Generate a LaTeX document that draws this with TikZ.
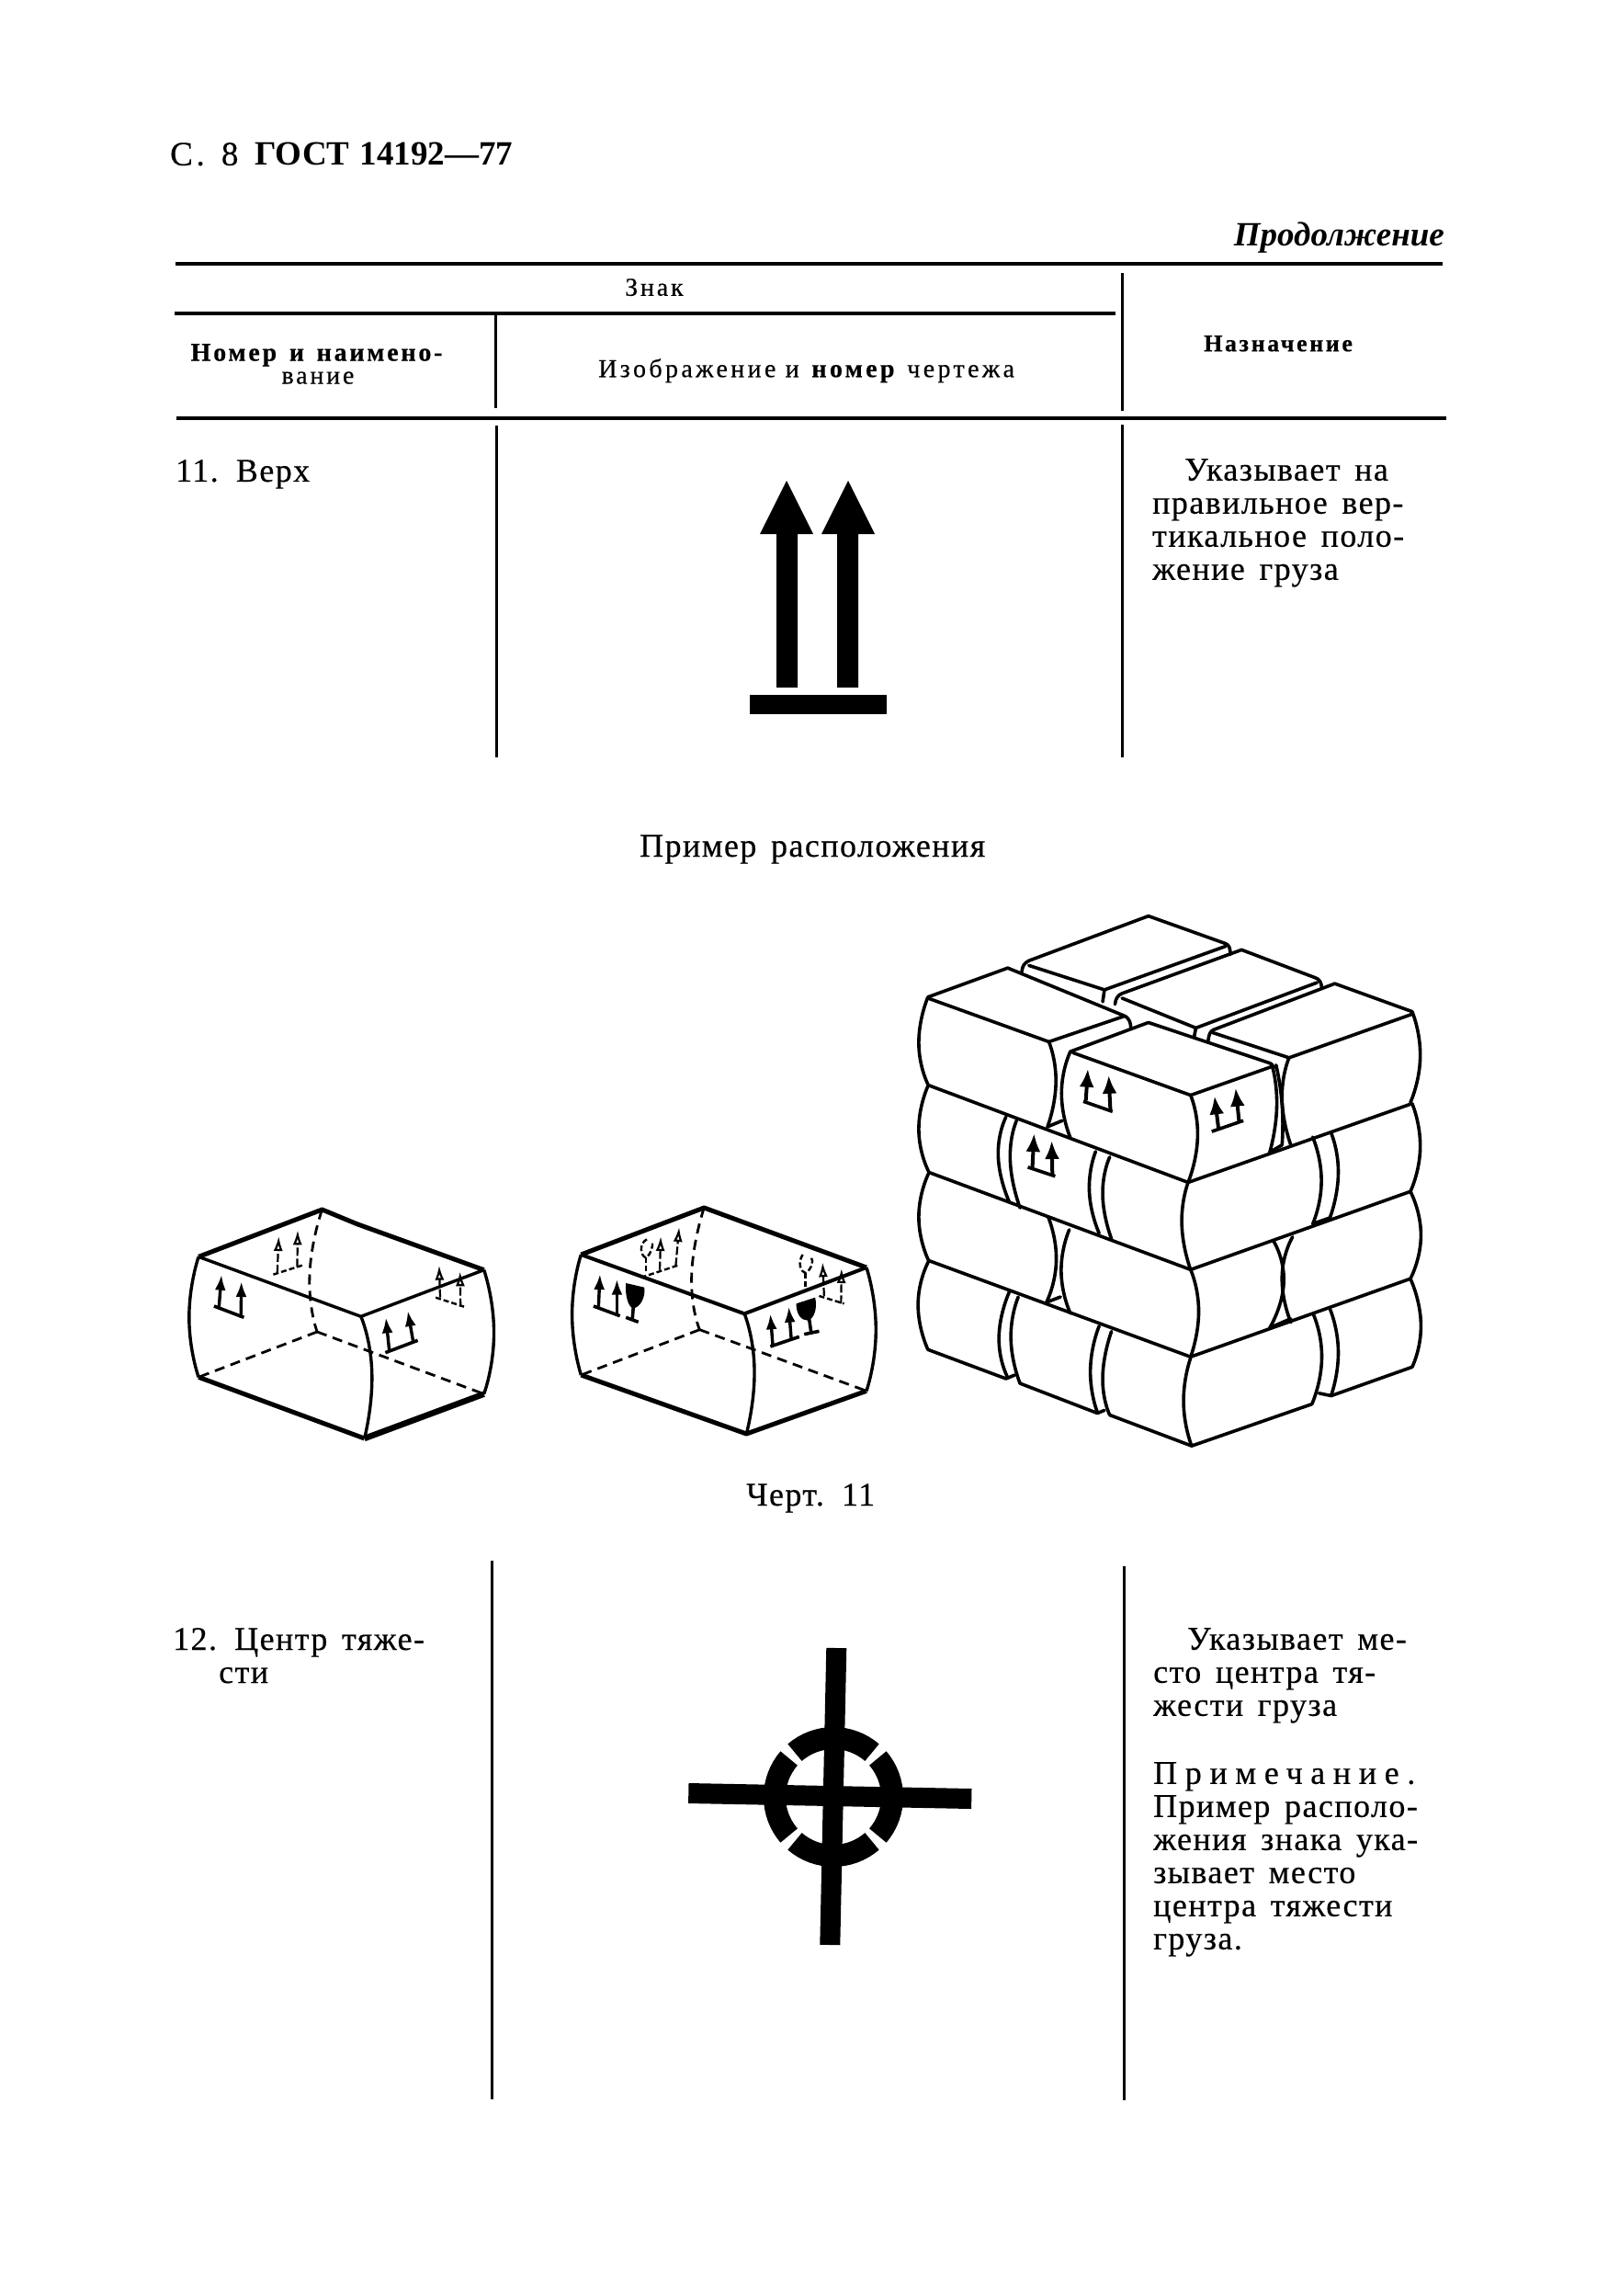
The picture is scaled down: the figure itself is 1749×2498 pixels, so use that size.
\documentclass[tikz,border=0pt]{standalone}
\usepackage{fontspec}
\usetikzlibrary{arrows.meta}
\setmainfont{Liberation Serif}
\newfontfamily\bodyfont{Liberation Serif}[LetterSpace=4,WordSpace=1.5,FakeBold=0.4]
\newfontfamily\smallfont{Liberation Serif}[LetterSpace=10,FakeBold=0.4]
\newfontfamily\wideboldfont{Liberation Serif}[LetterSpace=10,WordSpace=1.4,FakeBold=0.4]
\newfontfamily\headboldfont{Liberation Serif Bold}[LetterSpace=0,WordSpace=1.2]
\tikzset{
  every plot/.style={tension=1},
  tablerule/.style={line width=4.4pt},
  tablevert/.style={line width=3pt},
  txt/.style={anchor=north west, inner sep=0pt, align=left, font=\bodyfont\fontsize{36}{36}\selectfont},
  smalltxt/.style={anchor=north west, inner sep=0pt, align=left, font=\smallfont\fontsize{28}{25}\selectfont},
  edgeheavy/.style={line width=5pt, line join=round},
  edgelight/.style={line width=3.4pt, line join=round},
  hiddenedge/.style={line width=2.8pt, dash pattern=on 11pt off 7pt},
  stackline/.style={line width=3.6pt, line join=round, line cap=round},
  markstem/.style={line width=3.4pt, -{Latex[length=17pt,width=12pt]}},
  stackstem/.style={line width=4pt, -{Latex[length=20pt,width=16pt]}},
  hiddenstem/.style={line width=2.2pt, dash pattern=on 9pt off 3pt, -{Latex[open,length=16pt,width=10pt]}},
  markbase/.style={line width=3.6pt},
  hiddenbase/.style={line width=2.4pt, dash pattern=on 6pt off 3pt}
}
\begin{document}
\begin{tikzpicture}[x=1pt, y=-1pt]
    \useasboundingbox (0,0) rectangle (1749,2498);
    \fill [white] (0,0) rectangle (1749,2498);
    % page head
    \node (pagenum) [txt, font=\wideboldfont\fontsize{37}{37}\selectfont] at (185,155) {С. 8};
    \node (pagehead) [txt, font=\headboldfont\fontsize{37}{37}\selectfont] at (277,155) {ГОСТ 14192—77};
    \node (contd) [anchor=base east, inner sep=0pt, font=\fontsize{37}{37}\selectfont\bfseries\itshape] at (1572,267) {Продолжение};
    % table head
    \draw [tablerule] (191,287) -- (1570,287);
    \draw [tablerule, line width=3.8pt] (190,341) -- (1214,341);
    \draw [tablerule] (192,455) -- (1574,455);
    \draw [tablevert] (539,343) -- (539,444);
    \draw [tablevert] (1221,297) -- (1221,447);
    \draw [tablevert] (540,463) -- (540,824);
    \draw [tablevert] (1221,462) -- (1221,824);
    \node (signhead) [smalltxt] at (680,303) {Знак};
    \node (numhead) [smalltxt, align=center, anchor=north] at (346,374) {\textbf{Номер и наимено-}\\вание};
    \node (drawhead) [smalltxt, font=\smallfont\addfontfeature{LetterSpace=12}\fontsize{28}{25}\selectfont] at (651,390) {Изображение и \textbf{номер} чертежа};
    \node (usehead) [smalltxt, font=\smallfont\fontsize{26}{25}\selectfont] at (1310,365) {\textbf{Назначение}};
    % row 11
    \node (rowtop) [txt] at (191,500) {11. Верх};
    \node (rowtopuse) [txt] at (1254,499) {\hspace*{35pt}Указывает на\\правильное вер-\\тикальное поло-\\жение груза};
    \fill (856,523) -- (885,581) -- (868,581) -- (868,748) -- (845,748) -- (845,581) -- (827,581) -- cycle;
    \fill (923,523) -- (952,581) -- (934,581) -- (934,748) -- (911,748) -- (911,581) -- (894,581) -- cycle;
    \fill (816,756) rectangle (965,777);
    \node (examplecap) [txt, anchor=base west] at (696,932) {Пример расположения};
    % two single cartons
    \begin{scope}[shift={(150,1270)}, x=0.542pt, y=-0.3333pt]
      \draw [edgeheavy] (122,292) -- (370,138) -- (440,185) -- (695,335);
      \draw [edgelight] (122,292) -- (448,487) -- (695,335);
      \draw [edgeheavy] (122,685) -- (455,885);
      \draw [edgeheavy, line width=6.5pt] (455,885) -- (695,740);
      \draw [edgelight] plot [smooth] coordinates {(122,292) (103,490) (122,685)};
      \draw [edgelight] plot [smooth] coordinates {(695,335) (715,540) (695,740)};
      \draw [edgelight] plot [smooth] coordinates {(448,487) (470,670) (455,885)};
      \draw [hiddenedge] plot [smooth] coordinates {(370,138) (345,350) (360,537)};
      \draw [hiddenedge] (360,537) -- (122,685);
      \draw [hiddenedge] (360,537) -- (695,740);
      \draw [markstem] (163,455) -- (168,350);
      \draw [markstem] (207,490) -- (208,372);
      \draw [markbase] (153,453) -- (213,490);
      \draw [markstem] (505,600) -- (498,490);
      \draw [markstem] (553,570) -- (542,468);
      \draw [markbase] (497,605) -- (562,565);
      \draw [hiddenstem] (280,345) -- (283,225);
      \draw [hiddenstem] (320,325) -- (321,205);
      \draw [hiddenbase] (272,350) -- (330,320);
      \draw [hiddenstem] (607,425) -- (605,320);
      \draw [hiddenstem] (648,455) -- (647,340);
      \draw [hiddenbase] (598,425) -- (655,455);
      % second carton, with the glass
      \draw [edgeheavy] (890,285) -- (1137,132) -- (1463,327);
      \draw [edgelight, line width=4pt] (890,285) -- (1218,478) -- (1463,327);
      \draw [edgeheavy] (890,678) -- (1222,870) -- (1463,730);
      \draw [edgelight] plot [smooth] coordinates {(890,285) (872,480) (890,678)};
      \draw [edgelight] plot [smooth] coordinates {(1463,327) (1482,530) (1463,730)};
      \draw [edgelight] plot [smooth] coordinates {(1218,478) (1238,660) (1222,870)};
      \draw [hiddenedge] plot [smooth] coordinates {(1137,132) (1112,350) (1128,530)};
      \draw [hiddenedge] (1128,530) -- (890,678);
      \draw [hiddenedge] (1128,530) -- (1463,730);
      \draw [markstem] (925,455) -- (928,348);
      \draw [markstem] (962,480) -- (962,365);
      \draw [markbase] (915,453) -- (968,485);
      \fill (980,378) -- (1017,392) .. controls (1020,425) and (1008,458) .. (995,460) .. controls (985,458) and (978,420) .. (980,378) -- cycle;
      \draw [markbase] (995,455) -- (993,495);
      \draw [markbase] (980,490) -- (1005,505);
      \draw [markstem] (1275,582) -- (1270,478);
      \draw [markstem] (1312,560) -- (1307,455);
      \draw [markbase] (1270,585) -- (1328,553);
      \fill (1322,445) -- (1360,425) .. controls (1365,460) and (1358,495) .. (1345,500) .. controls (1332,500) and (1322,480) .. (1322,445) -- cycle;
      \draw [markbase] (1348,495) -- (1352,540);
      \draw [markbase] (1338,545) -- (1368,535);
      \draw [hiddenbase] (1022,235) .. controls (1005,250) and (1010,290) .. (1020,295) .. controls (1030,285) and (1035,260) .. (1033,240);
      \draw [hiddenbase] (1020,295) -- (1020,345);
      \draw [hiddenstem] (1048,335) -- (1050,225);
      \draw [hiddenstem] (1080,322) -- (1087,195);
      \draw [hiddenbase] (1010,360) -- (1088,318);
      \draw [hiddenbase] (1335,285) .. controls (1325,310) and (1330,340) .. (1340,345) .. controls (1352,335) and (1358,310) .. (1352,292);
      \draw [hiddenbase] (1340,345) -- (1340,395);
      \draw [hiddenstem] (1378,420) -- (1375,310);
      \draw [hiddenstem] (1412,445) -- (1413,330);
      \draw [hiddenbase] (1368,420) -- (1418,445);
    \end{scope}
    % the stack
    \begin{scope}[shift={(980,980)}, x=0.3827pt, y=-0.3954pt]
      % top layer, back
      \draw [stackline] (345,195) .. controls (347,178) and (352,172) .. (365,165) -- (705,42) -- (925,118) .. controls (935,122) and (938,132) .. (938,148);
      \draw [stackline] (365,178) -- (580,245) -- (925,125);
      \draw [stackline] (580,245) -- (575,278);
      \draw [stackline] (610,285) .. controls (612,268) and (618,260) .. (630,255) -- (970,135) -- (1180,212) .. controls (1192,216) and (1197,225) .. (1198,240);
      \draw [stackline] (630,268) -- (840,350) -- (1185,225);
      \draw [stackline] (840,350) -- (835,375);
      % top layer, front
      \draw [stackline] (78,265) -- (305,185) -- (640,318);
      \draw [stackline] (78,268) -- (422,388) -- (635,318);
      \draw [stackline] (640,318) .. controls (650,325) and (655,335) .. (655,350);
      \draw [stackline] plot [smooth] coordinates {(78,265) (52,390) (78,505)};
      \draw [stackline] plot [smooth] coordinates {(422,388) (442,500) (418,622)};
      \draw [stackline] (483,415) -- (705,335) -- (1045,445) .. controls (1055,448) and (1060,452) .. (1062,460);
      \draw [stackline] (490,418) -- (825,535) -- (1060,455);
      \draw [stackline] plot [smooth] coordinates {(483,415) (458,530) (483,652)};
      \draw [stackline] plot [smooth] coordinates {(825,535) (845,650) (818,775)};
      \draw [stackline] plot [smooth] coordinates {(1058,458) (1070,570) (1050,692)};
      \draw [stackline] (875,385) .. controls (877,368) and (880,360) .. (890,355) -- (1235,228) -- (1455,305);
      \draw [stackline] (885,362) -- (1105,432) -- (1455,312);
      \draw [stackline] plot [smooth] coordinates {(1105,432) (1085,545) (1110,672)};
      \draw [stackline] plot [smooth] coordinates {(1068,452) (1085,560) (1085,672)};
      \draw [stackline] plot [smooth] coordinates {(1455,305) (1478,430) (1450,555)};
      \draw [stackline] (418,622) -- (460,605);
      \draw [stackline] (1050,692) -- (1085,672);
      % second row
      \draw [stackline] (78,507) -- (818,775);
      \draw [stackline] plot [smooth] coordinates {(78,510) (52,630) (80,745)};
      \draw [stackline] plot [smooth] coordinates {(300,595) (278,705) (310,830)};
      \draw [stackline] plot [smooth] coordinates {(330,605) (312,715) (340,845)};
      \draw [stackline] plot [smooth] coordinates {(555,690) (537,800) (565,915)};
      \draw [stackline] plot [smooth] coordinates {(595,705) (575,810) (600,930)};
      \draw [stackline] (80,747) -- (825,1015);
      \draw [stackline] plot [smooth] coordinates {(818,775) (800,890) (825,1015)};
      \draw [stackline] (818,775) -- (1455,558);
      \draw [stackline] plot [smooth] coordinates {(1172,650) (1197,770) (1172,890)};
      \draw [stackline] plot [smooth] coordinates {(1225,640) (1245,750) (1222,870)};
      \draw [stackline] plot [smooth] coordinates {(1455,558) (1478,680) (1450,800)};
      \draw [stackline] (825,1015) -- (1450,800);
      \draw [stackline] (1175,888) -- (1222,872);
      % third row
      \draw [stackline] plot [smooth] coordinates {(80,750) (52,870) (80,990)};
      \draw [stackline] plot [smooth] coordinates {(420,870) (443,990) (415,1105)};
      \draw [stackline] plot [smooth] coordinates {(480,905) (457,1020) (483,1135)};
      \draw [stackline] (80,990) -- (825,1255);
      \draw [stackline] plot [smooth] coordinates {(825,1015) (848,1130) (825,1255)};
      \draw [stackline] plot [smooth] coordinates {(1060,935) (1090,1050) (1050,1175)};
      \draw [stackline] plot [smooth] coordinates {(1115,925) (1085,1035) (1110,1160)};
      \draw [stackline] plot [smooth] coordinates {(1450,800) (1480,920) (1450,1040)};
      \draw [stackline] (825,1255) -- (1450,1040);
      \draw [stackline] (415,1105) -- (455,1090);
      \draw [stackline] (1050,1175) -- (1110,1150);
      % fourth row
      \draw [stackline] plot [smooth] coordinates {(80,992) (50,1110) (78,1235)};
      \draw [stackline] (78,1235) -- (300,1315) -- (325,1305);
      \draw [stackline] plot [smooth] coordinates {(310,1075) (280,1200) (305,1312)};
      \draw [stackline] plot [smooth] coordinates {(335,1090) (314,1205) (340,1328)};
      \draw [stackline] (340,1328) -- (560,1410) -- (580,1402);
      \draw [stackline] plot [smooth] coordinates {(565,1170) (540,1290) (560,1408)};
      \draw [stackline] plot [smooth] coordinates {(600,1185) (575,1310) (595,1415)};
      \draw [stackline] (595,1415) -- (828,1500);
      \draw [stackline] plot [smooth] coordinates {(825,1258) (805,1380) (828,1500)};
      \draw [stackline] (828,1500) -- (1170,1385);
      \draw [stackline] plot [smooth] coordinates {(1175,1140) (1198,1260) (1170,1385)};
      \draw [stackline] (1190,1355) -- (1225,1362) -- (1455,1283);
      \draw [stackline] plot [smooth] coordinates {(1222,1125) (1245,1240) (1225,1360)};
      \draw [stackline] plot [smooth] coordinates {(1450,1040) (1480,1165) (1455,1283)};
      % marks on the stack
      \draw [stackstem] (527,550) -- (533,462);
      \draw [stackstem] (597,578) -- (592,480);
      \draw [markbase] (520,552) -- (603,580);
      \draw [stackstem] (905,632) -- (893,537);
      \draw [stackstem] (963,608) -- (953,515);
      \draw [markbase] (885,635) -- (975,605);
      \draw [stackstem] (375,735) -- (380,640);
      \draw [stackstem] (432,755) -- (430,660);
      \draw [markbase] (362,733) -- (440,758);
    \end{scope}
    \node (figcap) [txt, anchor=base west] at (812,1638) {Черт. 11};
    % row 12
    \draw [tablevert] (535,1698) -- (535,2284);
    \draw [tablevert] (1223,1704) -- (1223,2285);
    \node (rowcentre) [txt] at (188,1771) {12. Центр тяже-\\\hspace*{50pt}сти};
    \node (rowcentreuse) [txt] at (1255,1771) {\hspace*{37pt}Указывает ме-\\сто центра тя-\\жести груза};
    \node (rownote) [txt] at (1255,1917) {{\addfontfeature{LetterSpace=24}Примечание.}\\Пример располо-\\жения знака ука-\\зывает место\\центра тяжести\\груза.};
    % centre of gravity sign
    \draw [line width=22pt] (910.3,1793) -- (903.3,2116);
    \draw [line width=22pt] (749.3,1951) -- (1057.3,1957);
    \begin{scope}[shift={(907,1955)}, line width=24pt]
      \draw (49:64) arc (49:131:64);
      \draw (139:64) arc (139:221:64);
      \draw (229:64) arc (229:311:64);
      \draw (319:64) arc (319:401:64);
    \end{scope}
\end{tikzpicture}
\end{document}
